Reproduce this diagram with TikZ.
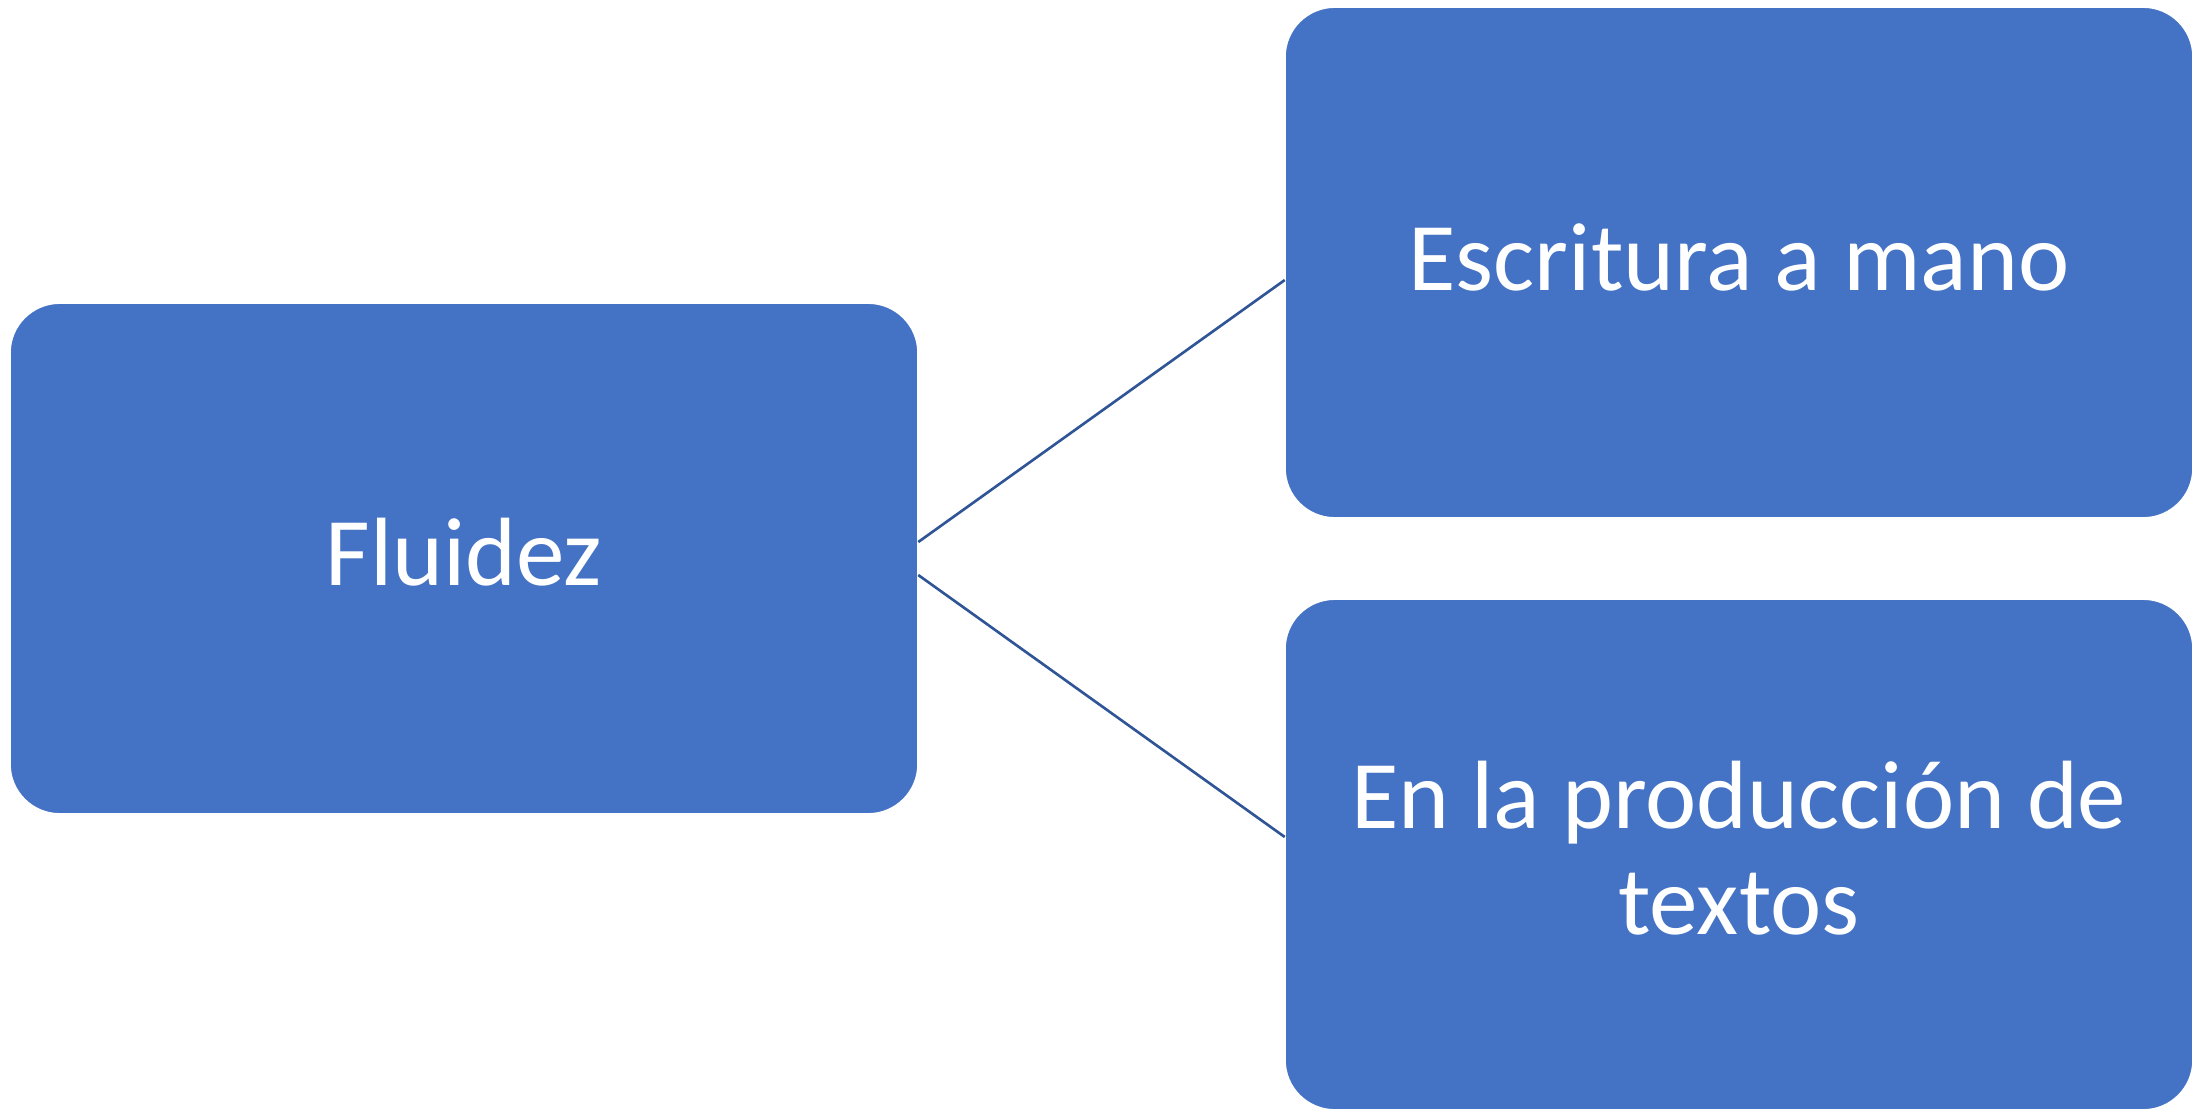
\documentclass[tikz,border=0pt]{standalone}
\usepackage{fontspec}
\setmainfont{Carlito}
\definecolor{boxblue}{HTML}{4472C4}
\definecolor{linkblue}{HTML}{2F5597}
\begin{document}
\begin{tikzpicture}[x=0.01cm,y=-0.01cm,
  boxnode/.style={rectangle, rounded corners=0.5cm, fill=boxblue, draw=white, line width=0.6pt,
    minimum width=9.08cm, minimum height=5.11cm, inner sep=0pt, outer sep=0pt},
  lbl/.style={text=white, font=\fontsize{27.6}{33}\selectfont, inner sep=0pt, anchor=base},
  link/.style={draw=linkblue, line width=0.75pt}]
\useasboundingbox (0,0) rectangle (2194,1108);
\node[boxnode] (parent) at (464,558.5) {};
\node[boxnode] (child1) at (1739,262.5) {};
\node[boxnode] (child2) at (1739,854.5) {};
\node[lbl] (t0) at ([yshift=-0.265cm]parent.center) {Fluidez};
\node[lbl] (t1) at ([yshift=-0.275cm]child1.center) {Escritura a mano};
\node[lbl] (t2a) at ([yshift=0.265cm]child2.center) {En la producción de};
\node[lbl] (t2b) at ([yshift=-0.795cm]child2.center) {textos};
\draw[link] ([yshift=0.165cm]parent.east) -- ([yshift=-0.175cm]child1.west);
\draw[link] ([yshift=-0.165cm]parent.east) -- ([yshift=0.175cm]child2.west);
\end{tikzpicture}
\end{document}
